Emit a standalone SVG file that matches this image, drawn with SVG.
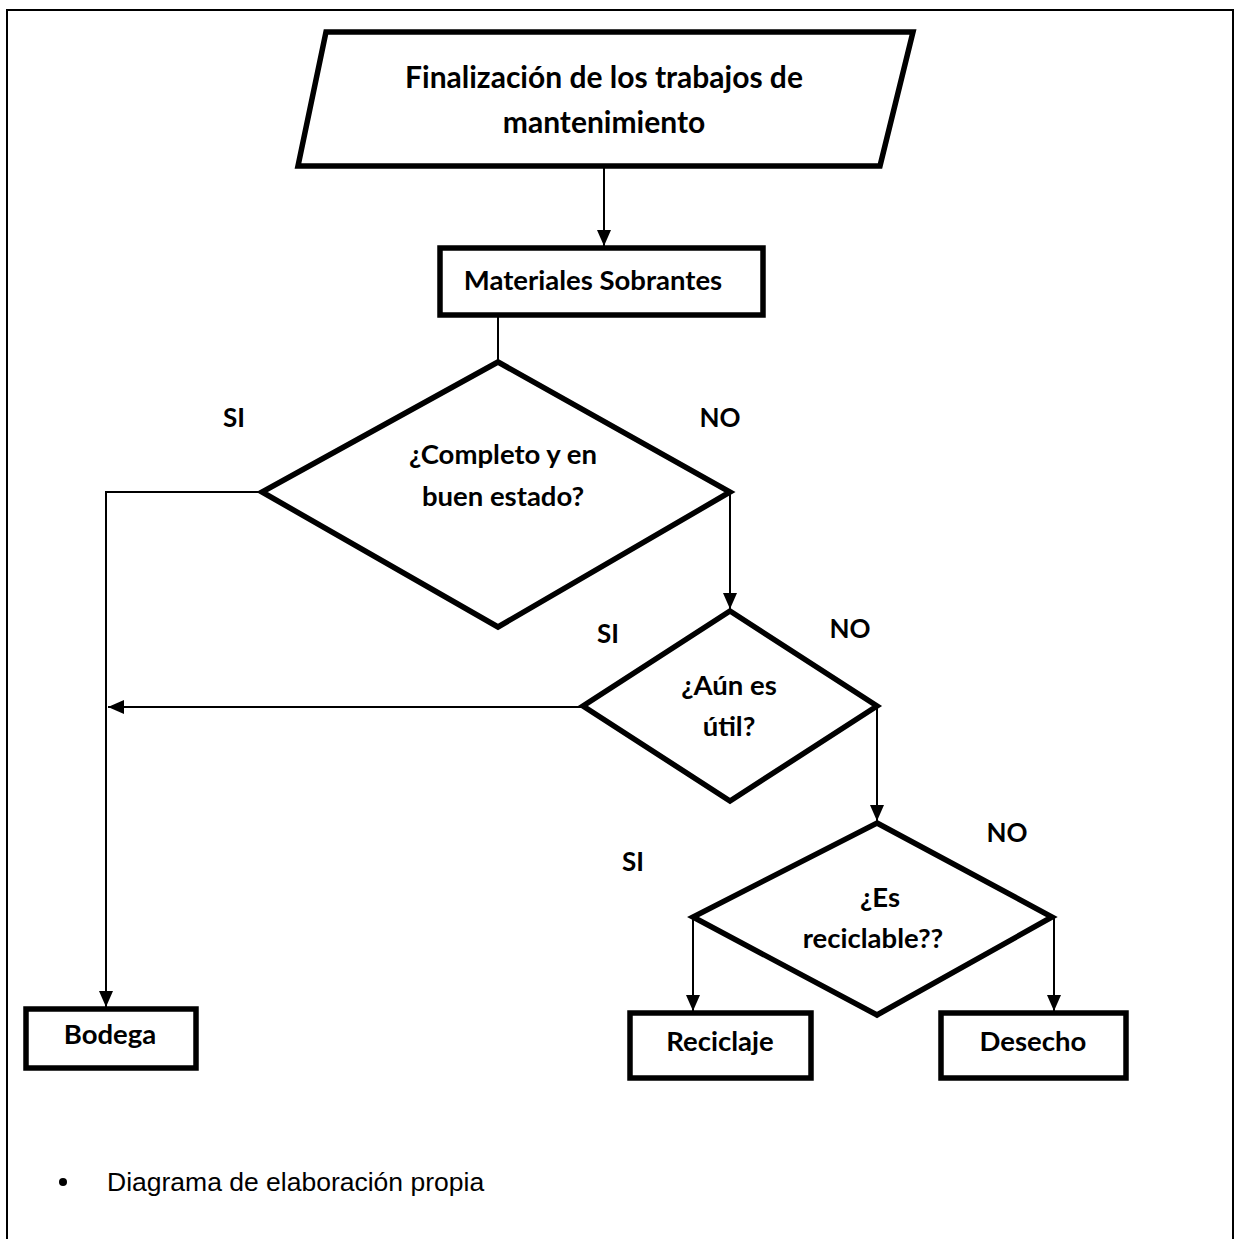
<svg xmlns="http://www.w3.org/2000/svg" width="1238" height="1239" viewBox="0 0 1238 1239">
<style>
.shape{fill:#fff;stroke:#000;stroke-width:5.5;stroke-linejoin:miter}
.lbl{font-family:Lato,"Open Sans","Liberation Sans",sans-serif;font-weight:bold;font-size:27.5px;fill:#000;text-anchor:middle}
.big{font-size:30px}
.yn{font-family:Lato,"Open Sans","Liberation Sans",sans-serif;font-weight:bold;font-size:26px;fill:#000;text-anchor:middle}
.con{fill:none;stroke:#000;stroke-width:2}
.note{font-family:"Liberation Sans",Arial,sans-serif;font-size:26.5px;fill:#000}
</style>
<defs>
<marker id="ah" markerWidth="16" markerHeight="14" refX="16" refY="7" orient="auto" markerUnits="userSpaceOnUse">
<path d="M0,0 L16,7 L0,14 Z" fill="#000"/>
</marker>
</defs>
<rect x="0" y="0" width="1238" height="1239" fill="#fff"/>
<g id="frame" fill="none" stroke="#000" stroke-width="2">
<path d="M7,1239 L7,10 L1233,10 L1233,1239"/>
</g>
<g id="connectors">
<line class="con" x1="604" y1="166" x2="604" y2="246" marker-end="url(#ah)"/>
<line class="con" x1="498" y1="316" x2="498" y2="362"/>
<path class="con" d="M262,492 L106,492 L106,1007" marker-end="url(#ah)"/>
<path class="con" d="M730,492 L730,609" marker-end="url(#ah)"/>
<line class="con" x1="583" y1="707" x2="108" y2="707" marker-end="url(#ah)"/>
<path class="con" d="M877,706 L877,821" marker-end="url(#ah)"/>
<path class="con" d="M693,917 L693,1011" marker-end="url(#ah)"/>
<path class="con" d="M1054,917 L1054,1011" marker-end="url(#ah)"/>
</g>
<g id="start">
<polygon class="shape" points="326,32 913,32 880,166 298,166"/>
<text class="lbl big" x="604" y="88">Finalización de los trabajos de</text>
<text class="lbl big" x="604" y="133">mantenimiento</text>
</g>
<g id="materiales">
<rect class="shape" x="440" y="248" width="323" height="67"/>
<text class="lbl" x="593" y="290">Materiales Sobrantes</text>
</g>
<g id="decision1">
<polygon class="shape" points="498,362 730,492 498,627 262,492"/>
<text class="lbl" x="503" y="464">¿Completo y en</text>
<text class="lbl" x="503" y="506">buen estado?</text>
</g>
<g id="decision2">
<polygon class="shape" points="730,611 877,706 730,801 583,706"/>
<text class="lbl" x="729" y="695">¿Aún es</text>
<text class="lbl" x="729" y="736">útil?</text>
</g>
<g id="decision3">
<polygon class="shape" points="877,823 1052,917 877,1015 693,917"/>
<text class="lbl" x="880" y="907">¿Es</text>
<text class="lbl" x="873" y="948">reciclable??</text>
</g>
<g id="bodega">
<rect class="shape" x="26" y="1009" width="170" height="59"/>
<text class="lbl" x="110" y="1044">Bodega</text>
</g>
<g id="reciclaje">
<rect class="shape" x="630" y="1013" width="181" height="65"/>
<text class="lbl" x="720" y="1051">Reciclaje</text>
</g>
<g id="desecho">
<rect class="shape" x="941" y="1013" width="185" height="65"/>
<text class="lbl" x="1033" y="1051">Desecho</text>
</g>
<g id="labels">
<text class="yn" x="234" y="427">SI</text>
<text class="yn" x="720" y="427">NO</text>
<text class="yn" x="608" y="643">SI</text>
<text class="yn" x="850" y="638">NO</text>
<text class="yn" x="633" y="871">SI</text>
<text class="yn" x="1007" y="842">NO</text>
</g>
<g id="note">
<circle cx="63" cy="1182" r="4" fill="#000"/>
<text class="note" x="107" y="1191">Diagrama de elaboración propia</text>
</g>
</svg>
